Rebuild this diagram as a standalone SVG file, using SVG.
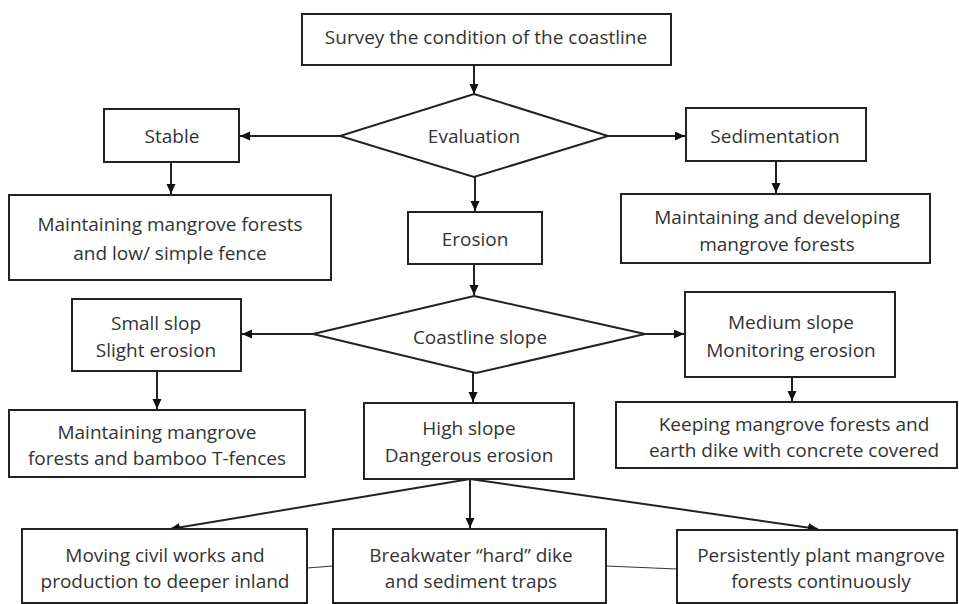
<svg xmlns="http://www.w3.org/2000/svg" width="959" height="604" viewBox="0 0 959 604">
<style>
.b{fill:#fff;stroke:#222;stroke-width:2}
.t{font-family:"Open Sans","Liberation Sans",Arial,sans-serif;font-size:19px;fill:#333;text-anchor:middle}
.c{fill:none;stroke:#222;stroke-width:2}
.thin{fill:none;stroke:#333;stroke-width:1}
</style>
<defs>
<marker id="ah" markerUnits="userSpaceOnUse" markerWidth="11" markerHeight="10" refX="10" refY="4.5" orient="auto">
<path d="M0,0 L10,4.5 L0,9 z" fill="#111"/>
</marker>
</defs>
<rect width="959" height="604" fill="#fff"/>
<g id="connectors">
<path class="c" d="M474,65 V94" marker-end="url(#ah)"/>
<path class="c" d="M340,136 H240" marker-end="url(#ah)"/>
<path class="c" d="M608,136 H685" marker-end="url(#ah)"/>
<path class="c" d="M171,162 V194" marker-end="url(#ah)"/>
<path class="c" d="M776,161 V193" marker-end="url(#ah)"/>
<path class="c" d="M475,177 V211" marker-end="url(#ah)"/>
<path class="c" d="M474,264 V295" marker-end="url(#ah)"/>
<path class="c" d="M313,334 H242" marker-end="url(#ah)"/>
<path class="c" d="M645,334 H684" marker-end="url(#ah)"/>
<path class="c" d="M157,371 V409" marker-end="url(#ah)"/>
<path class="c" d="M473,373 V402" marker-end="url(#ah)"/>
<path class="c" d="M792,377 V401" marker-end="url(#ah)"/>
<path class="c" d="M470,479 V528" marker-end="url(#ah)"/>
<path class="c" d="M470,479 L170,529" marker-end="url(#ah)"/>
<path class="c" d="M470,479 L818,529" marker-end="url(#ah)"/>
<path class="thin" d="M307,568 L333,566"/>
<path class="thin" d="M606,566 L677,569"/>
</g>
<g id="survey"><rect class="b" x="302" y="14" width="369" height="51"/><text class="t" x="486" y="44">Survey the condition of the coastline</text></g>
<g id="evaluation"><polygon class="b" points="474,94 608,136 474,177 340,136"/><text class="t" x="474" y="143">Evaluation</text></g>
<g id="stable"><rect class="b" x="104" y="109" width="135" height="53"/><text class="t" x="172" y="143">Stable</text></g>
<g id="sedimentation"><rect class="b" x="686" y="108" width="180" height="53"/><text class="t" x="775" y="143">Sedimentation</text></g>
<g id="maint-stable"><rect class="b" x="9" y="195" width="322" height="85"/><text class="t" x="170" y="231">Maintaining mangrove forests</text><text class="t" x="170" y="260">and low/ simple fence</text></g>
<g id="maint-sed"><rect class="b" x="621" y="194" width="309" height="69"/><text class="t" x="777" y="224">Maintaining and developing</text><text class="t" x="777" y="251">mangrove forests</text></g>
<g id="erosion"><rect class="b" x="408" y="212" width="134" height="52"/><text class="t" x="475" y="246">Erosion</text></g>
<g id="coastline-slope"><polygon class="b" points="474,296 645,334 476,373 313,334"/><text class="t" x="480" y="344">Coastline slope</text></g>
<g id="small-slope"><rect class="b" x="72" y="299" width="169" height="72"/><text class="t" x="156" y="330">Small slop</text><text class="t" x="156" y="357">Slight erosion</text></g>
<g id="medium-slope"><rect class="b" x="685" y="292" width="210" height="85"/><text class="t" x="791" y="329">Medium slope</text><text class="t" x="791" y="357">Monitoring erosion</text></g>
<g id="maint-small"><rect class="b" x="9" y="410" width="296" height="67"/><text class="t" x="157" y="439">Maintaining mangrove</text><text class="t" x="157" y="465">forests and bamboo T-fences</text></g>
<g id="high-slope"><rect class="b" x="364" y="403" width="210" height="76"/><text class="t" x="469" y="435">High slope</text><text class="t" x="469" y="462">Dangerous erosion</text></g>
<g id="keeping"><rect class="b" x="616" y="402" width="341" height="66"/><text class="t" x="794" y="431">Keeping mangrove forests and</text><text class="t" x="794" y="457">earth dike with concrete covered</text></g>
<g id="moving"><rect class="b" x="22" y="529" width="285" height="74"/><text class="t" x="165" y="562">Moving civil works and</text><text class="t" x="165" y="588">production to deeper inland</text></g>
<g id="breakwater"><rect class="b" x="333" y="529" width="273" height="74"/><text class="t" x="471" y="562">Breakwater “hard” dike</text><text class="t" x="471" y="588">and sediment traps</text></g>
<g id="persistently"><rect class="b" x="677" y="530" width="280" height="73"/><text class="t" x="821" y="562">Persistently plant mangrove</text><text class="t" x="821" y="588">forests continuously</text></g>
</svg>
